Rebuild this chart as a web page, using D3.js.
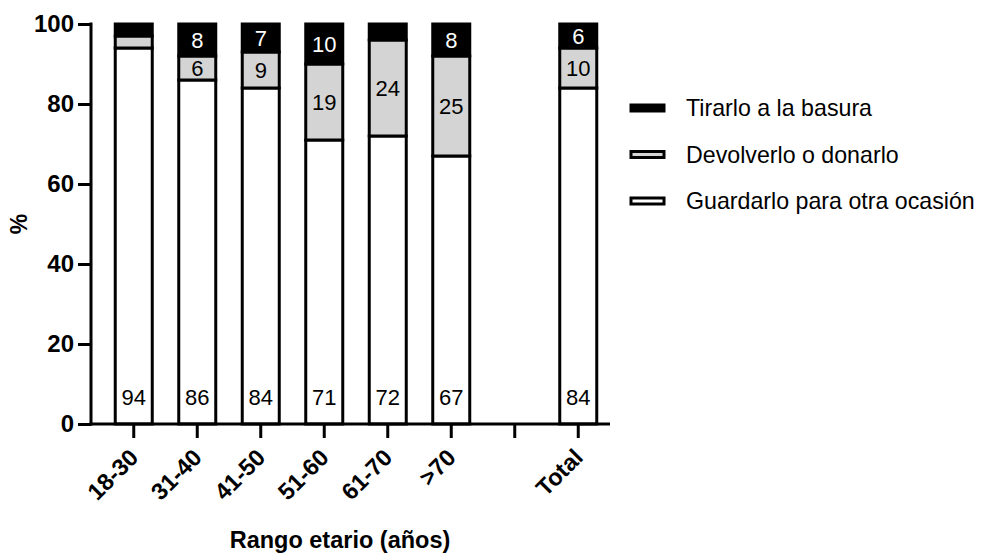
<!DOCTYPE html>
<html><head><meta charset="utf-8">
<script src="https://cdn.jsdelivr.net/npm/d3@7"></script>
<style>body{margin:0;background:#fff}svg{display:block;font-family:"Liberation Sans",Arial,sans-serif}</style>
</head><body><svg id="c" width="983" height="554"></svg>
<script>
const categories = ["18-30","31-40","41-50","51-60","61-70",">70","","Total"];
const guardarlo  = [94, 86, 84, 71, 72, 67, null, 84];
const devolverlo = [3, 6, 9, 19, 24, 25, null, 10];
const tirarlo    = [3, 8, 7, 10, 4, 8, null, 6];
const seriesNames = ["Guardarlo para otra ocasión","Devolverlo o donarlo","Tirarlo a la basura"];
const seriesColors = ["#ffffff","#d4d4d4","#000000"];
const yTicks = [0,20,40,60,80,100];
const xTitle = "Rango etario (años)";
const yTitle = "%";

const svg = d3.select("#c");
const x = d3.scaleBand().domain(categories).range([102,610]).paddingInner(0.37).paddingOuter(0.185);
const y = d3.scaleLinear().domain([0,100]).range([424,24]);

const rows = categories.map((c,i)=>({cat:c, g:guardarlo[i]||0, d:devolverlo[i]||0, t:tirarlo[i]||0, empty:guardarlo[i]==null}));
const stack = d3.stack().keys(["g","d","t"]);
const layers = stack(rows.filter(r=>!r.empty));

layers.forEach((layer,li)=>{
  const gg = svg.append("g");
  gg.selectAll("rect").data(layer).enter().append("rect")
    .attr("x", d=>x(d.data.cat)+1.5)
    .attr("width", x.bandwidth()-3)
    .attr("y", d=>y(d[1]))
    .attr("height", d=>Math.max(0,y(d[0])-y(d[1])))
    .attr("fill", seriesColors[li])
    .attr("stroke","#000").attr("stroke-width",3);
});
layers.forEach((layer,li)=>{
  svg.append("g").selectAll("text").data(layer.filter(d=>(d[1]-d[0])>=5)).enter().append("text")
    .attr("x", d=>x(d.data.cat)+x.bandwidth()/2)
    .attr("y", d=> li===0 ? y(0)-27 : (y(d[0])+y(d[1]))/2)
    .attr("dy","0.36em")
    .attr("text-anchor","middle")
    .attr("font-size",22)
    .attr("fill", li===2 ? "#fff" : "#000")
    .text(d=>Math.round(d[1]-d[0]));
});

// Axes
const yAxis = d3.axisLeft(y).tickValues(yTicks).tickSize(13).tickPadding(4);
const ya = svg.append("g").attr("transform","translate(91,0)").call(yAxis);
ya.select(".domain").attr("d","M0,22.5V425.5").attr("stroke","#000").attr("stroke-width",3);
ya.selectAll(".tick line").attr("stroke-width",3);
ya.selectAll(".tick text").attr("font-size",24).attr("font-weight","bold").attr("font-family","Liberation Sans, Arial, sans-serif").attr("fill","#000");

const xAxis = d3.axisBottom(x).tickSize(14).tickPadding(4);
const xa = svg.append("g").attr("transform","translate(0,424)").call(xAxis);
xa.select(".domain").attr("d","M89.5,0H610").attr("stroke-width",3);
xa.selectAll(".tick line").attr("stroke-width",3);
xa.selectAll(".tick text").attr("font-size",23.5).attr("font-weight","bold").attr("font-family","Liberation Sans, Arial, sans-serif").attr("fill","#000")
  .attr("text-anchor","end").attr("dy",null).attr("y",0)
  .attr("transform","translate(6,35) rotate(-45)");

svg.append("text").attr("x",340).attr("y",548).attr("text-anchor","middle")
  .attr("font-size",23.5).attr("font-weight","bold").text(xTitle);
svg.append("text").attr("transform","translate(27,224) rotate(-90)").attr("text-anchor","middle")
  .attr("font-size",23).attr("font-weight","bold").text(yTitle);

// Legend
const legendOrder = [2,1,0];
const lg = svg.append("g");
legendOrder.forEach((si,k)=>{
  const yy = 108 + k*46.5;
  lg.append("rect").attr("x",631).attr("y",yy-3).attr("width",33).attr("height",6)
    .attr("fill",seriesColors[si]).attr("stroke","#000").attr("stroke-width",3);
  lg.append("text").attr("x",686).attr("y",yy).attr("dy","0.36em").attr("font-size",23.2).text(seriesNames[si]);
});
</script></body></html>
